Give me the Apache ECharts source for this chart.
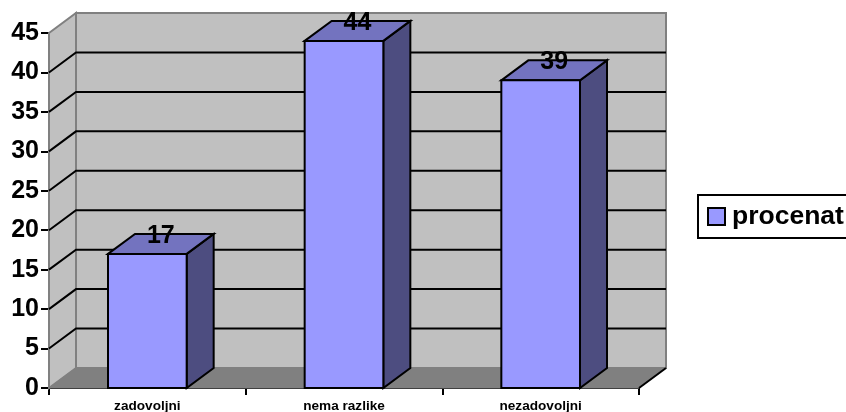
<!DOCTYPE html>
<html><head><meta charset="utf-8">
<style>html,body{margin:0;padding:0;background:#fff;overflow:hidden}#c{width:846px;height:412px}</style>
<script src="https://cdn.jsdelivr.net/npm/echarts@6/dist/echarts.min.js"></script>
</head><body><div id="c"></div>
<script>
const categories = ['zadovoljni', 'nema razlike', 'nezadovoljni'];
const procenat = [17, 44, 39];
const gridValues = [5, 10, 15, 20, 25, 30, 35, 40];
const seriesName = 'procenat';

const DX = 27, DY = -20;
const FONT = '"Liberation Sans", Arial, sans-serif';
const poly = (points, fill, stroke, lw) => ({type: 'polygon', shape: {points}, style: {fill, stroke, lineWidth: lw, lineJoin: 'miter'}});
const line = (points, stroke, lw) => ({type: 'polyline', shape: {points}, style: {fill: 'none', stroke, lineWidth: lw}});

const chart = echarts.init(document.getElementById('c'), null, {renderer: 'canvas'});
chart.setOption({
  animation: false,
  backgroundColor: '#fff',
  textStyle: {fontFamily: FONT},
  grid: {left: 49, right: 207, top: 33, bottom: 24, containLabel: false, outerBoundsMode: 'none'},
  legend: {
    left: 698, top: 195, orient: 'vertical',
    padding: [8, 12, 8, 9], borderColor: '#000', borderWidth: 2, backgroundColor: '#fff',
    itemWidth: 17, itemHeight: 17, itemGap: 0, icon: 'rect', selectedMode: false,
    textStyle: {fontFamily: FONT, fontWeight: 'bold', fontSize: 26.5, color: '#000', padding: [0, 0, 0, 2]},
    data: [{name: seriesName, itemStyle: {color: '#9999ff', borderColor: '#000', borderWidth: 2}}]
  },
  xAxis: {
    type: 'category', data: categories, boundaryGap: true,
    axisLine: {show: true, onZero: false, lineStyle: {color: '#000', width: 2}},
    axisTick: {show: true, alignWithLabel: false, length: 7, lineStyle: {color: '#000', width: 2}},
    axisLabel: {color: '#000', fontWeight: 'bold', fontSize: 13.6, fontFamily: FONT, margin: 11, interval: 0}
  },
  yAxis: {
    type: 'value', min: 0, max: 45, interval: 5,
    splitLine: {show: false},
    axisLine: {show: true, lineStyle: {color: '#000', width: 2}},
    axisTick: {show: true, length: 8, lineStyle: {color: '#000', width: 2}},
    axisLabel: {color: '#000', fontWeight: 'bold', fontSize: 25, fontFamily: FONT, margin: 10, padding: [2, 0, 0, 0]}
  },
  series: [
    {
      type: 'custom', silent: true, z: 1, clip: false, coordinateSystem: 'cartesian2d',
      data: [[0, 0]],
      renderItem(params, api) {
        const c = params.coordSys;
        const l = c.x, r = c.x + c.width, t = c.y, b = c.y + c.height;
        return {type: 'group', children: [
          poly([[l + DX, t + DY], [r + DX, t + DY], [r + DX, b + DY], [l + DX, b + DY]], '#c0c0c0', '#808080', 2),
          poly([[l, t], [l + DX, t + DY], [l + DX, b + DY], [l, b]], '#c0c0c0', '#808080', 2),
          poly([[l, b], [l + DX, b + DY], [r + DX, b + DY], [r, b]], '#808080', '#808080', 1),
          line([[r, b], [r + DX, b + DY]], '#000', 2)
        ]};
      }
    },
    {
      type: 'custom', silent: true, z: 2, clip: false, coordinateSystem: 'cartesian2d',
      data: gridValues.map(v => [0, v]),
      renderItem(params, api) {
        const c = params.coordSys;
        const y = api.coord([0, api.value(1)])[1];
        return line([[c.x, y], [c.x + DX, y + DY], [c.x + c.width + DX, y + DY]], '#000', 2);
      }
    },
    {
      name: seriesName, type: 'custom', z: 3, clip: false, coordinateSystem: 'cartesian2d',
      itemStyle: {color: '#9999ff'},
      encode: {x: 0, y: 1},
      data: procenat.map((v, i) => [i, v]),
      renderItem(params, api) {
        const top = api.coord([api.value(0), api.value(1)]);
        const base = api.coord([api.value(0), 0]);
        const w = api.size([1, 0])[0] * 0.4;
        const l = top[0] - w / 2, r = top[0] + w / 2, t = top[1], b = base[1];
        return {type: 'group', children: [
          poly([[r, t], [r + DX, t + DY], [r + DX, b + DY], [r, b]], '#4d4d80', '#000', 2),
          poly([[l, t], [l + DX, t + DY], [r + DX, t + DY], [r, t]], '#7373bf', '#000', 2),
          poly([[l, t], [r, t], [r, b], [l, b]], '#9999ff', '#000', 2),
          {type: 'text', z2: 10, style: {
            text: String(api.value(1)), x: top[0] + DX / 2, y: t + DY + 2,
            align: 'center', verticalAlign: 'middle',
            fill: '#000', font: 'bold 25px ' + FONT
          }}
        ]};
      }
    }
  ]
});
</script></body></html>
